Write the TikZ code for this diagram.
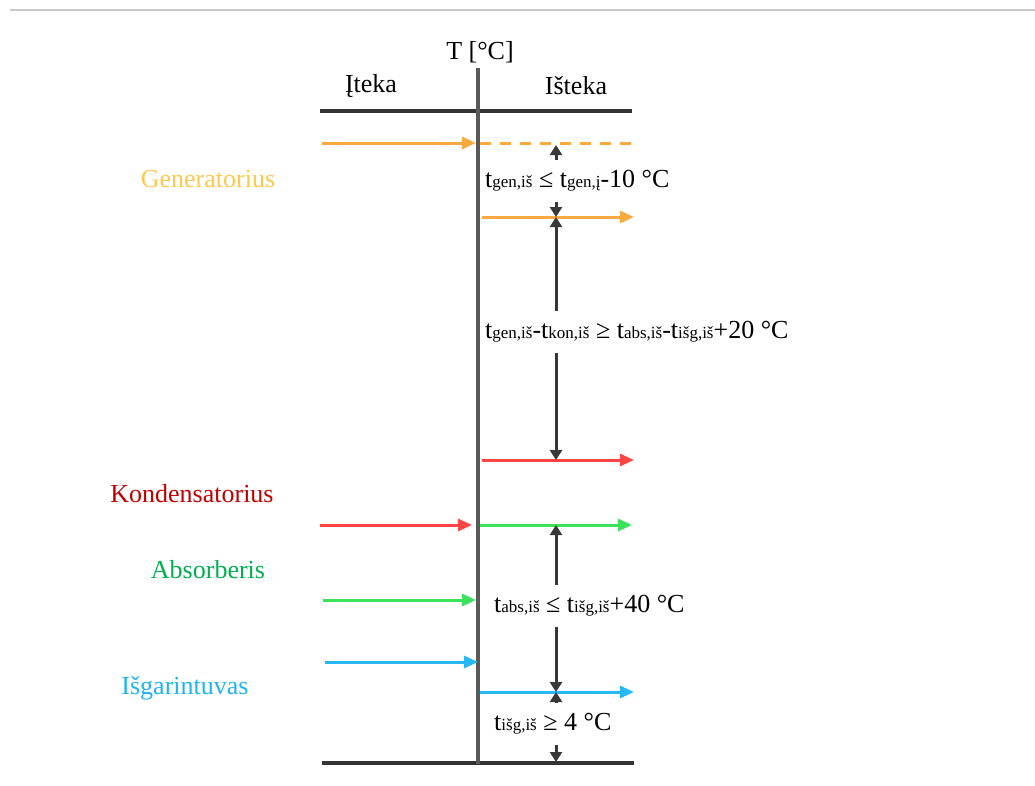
\documentclass[tikz,border=0pt]{standalone}
\usepackage{fontspec}
\setmainfont{Liberation Serif}
\usetikzlibrary{arrows.meta}
\definecolor{cOr}{HTML}{F8A940}
\definecolor{cOrL}{HTML}{FDC850}
\definecolor{cRed}{HTML}{FF4444}
\definecolor{cRedL}{HTML}{C00000}
\definecolor{cGr}{HTML}{3BE35A}
\definecolor{cGrL}{HTML}{00B050}
\definecolor{cBl}{HTML}{25B8F5}
\definecolor{cBlL}{HTML}{1FB4F0}
\newcommand\sbx[1]{{\fontsize{17}{17}\selectfont #1}}
\begin{document}
\begin{tikzpicture}[x=1pt,y=-1pt,
  flow/.style={line width=3pt,-{Triangle[length=14pt,width=12pt]}},
  axisline/.style={line width=3.5pt,draw=black!65},
  frameline/.style={line width=3.5pt,draw=black!80},
  dim/.style={line width=3pt,draw=black!78,{Triangle[length=10pt,width=12pt]}-{Triangle[length=10pt,width=12pt]}},
  formula/.style={fill=white,anchor=west,inner xsep=4pt,inner ysep=11pt,font=\fontsize{26}{28}\selectfont},
  head/.style={font=\fontsize{26}{28}\selectfont},
  lab/.style={font=\fontsize{26}{28}\selectfont}]
\useasboundingbox (0,0) rectangle (1035,785);
\draw[line width=2pt,draw=black!22] (10,10) -- (1035,10);
% axis and frame
\coordinate (axT) at (478,68);
\coordinate (axB) at (478,764);
\coordinate (topL) at (320,111);
\coordinate (topR) at (632,111);
\coordinate (botL) at (322,763);
\coordinate (botR) at (634,763);
\draw[frameline] (topL) -- (topR);
\draw[frameline] (botL) -- (botR);
\draw[axisline] (axT) -- (axB);
\node[head] (T) at (480,52) {T [°C]};
\node[head] (in) at (371,86) {Įteka};
\node[head] (out) at (576,86) {Išteka};
% labels
\node[lab,text=cOrL] (gen) at (208,179) {Generatorius};
\node[lab,text=cRedL] (kon) at (192,494) {Kondensatorius};
\node[lab,text=cGrL] (abs) at (208,570) {Absorberis};
\node[lab,text=cBlL] (isg) at (185,688) {Išgarintuvas};
% coordinates of flows
\coordinate (g0) at (322,143); \coordinate (g1) at (476,143);
\coordinate (gd0) at (480,143); \coordinate (gd1) at (634,143);
\coordinate (go0) at (482,217); \coordinate (go1) at (634,217);
\coordinate (ko0) at (482,460); \coordinate (ko1) at (634,460);
\coordinate (ki0) at (320,525); \coordinate (ki1) at (472,525);
\coordinate (ao0) at (480,525); \coordinate (ao1) at (632,525);
\coordinate (ai0) at (323,600); \coordinate (ai1) at (476,600);
\coordinate (ei0) at (325,662); \coordinate (ei1) at (478,662);
\coordinate (eo0) at (480,692); \coordinate (eo1) at (634,692);
\draw[flow,cOr] (g0) -- (g1);
\draw[line width=3pt,cOr,dash pattern=on 11pt off 9pt] (gd0) -- (gd1);
\draw[flow,cOr] (go0) -- (go1);
\draw[flow,cRed] (ko0) -- (ko1);
\draw[flow,cRed] (ki0) -- (ki1);
\draw[flow,cGr] (ao0) -- (ao1);
\draw[flow,cGr] (ai0) -- (ai1);
\draw[flow,cBl] (ei0) -- (ei1);
\draw[flow,cBl] (eo0) -- (eo1);
% dimension arrows
\coordinate (d1) at (556,145); \coordinate (d2) at (556,217);
\coordinate (d3) at (556,460); \coordinate (d4) at (556,525);
\coordinate (d5) at (556,692); \coordinate (d6) at (556,762);
\draw[dim] (d1) -- (d2);
\draw[dim] (d2) -- (d3);
\draw[dim] (d4) -- (d5);
\draw[dim] (d5) -- (d6);
% formulas
\node[formula] (f1) at (481,181) {t\sbx{gen,iš} ≤ t\sbx{gen,į}-10 °C};
\node[formula] (f2) at (481,332) {t\sbx{gen,iš}-t\sbx{kon,iš} ≥ t\sbx{abs,iš}-t\sbx{išg,iš}+20 °C};
\node[formula] (f3) at (490,606) {t\sbx{abs,iš} ≤ t\sbx{išg,iš}+40 °C};
\node[formula] (f4) at (490,724) {t\sbx{išg,iš} ≥ 4 °C};
\end{tikzpicture}
\end{document}
